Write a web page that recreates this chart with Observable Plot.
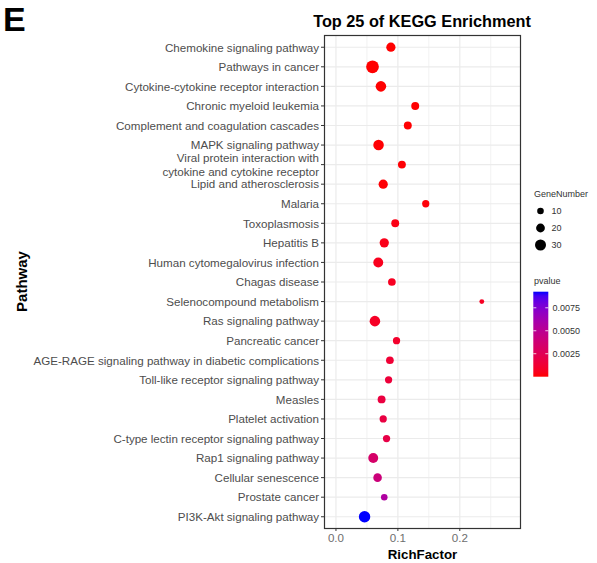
<!DOCTYPE html>
<html><head><meta charset="utf-8">
<script src="https://cdn.jsdelivr.net/npm/d3@7"></script>
<script src="https://cdn.jsdelivr.net/npm/@observablehq/plot@0.6"></script>
<style>
html,body{margin:0;padding:0;background:#fff;}
#wrap{position:relative;width:597px;height:563px;font-family:"Liberation Sans",Arial,sans-serif;}
#wrap svg{position:absolute;left:0;top:0;}
</style></head><body><div id="wrap"></div>
<script>
const pathways = [
  "Chemokine signaling pathway",
  "Pathways in cancer",
  "Cytokine-cytokine receptor interaction",
  "Chronic myeloid leukemia",
  "Complement and coagulation cascades",
  "MAPK signaling pathway",
  "Viral protein interaction with\ncytokine and cytokine receptor",
  "Lipid and atherosclerosis",
  "Malaria",
  "Toxoplasmosis",
  "Hepatitis B",
  "Human cytomegalovirus infection",
  "Chagas disease",
  "Selenocompound metabolism",
  "Ras signaling pathway",
  "Pancreatic cancer",
  "AGE-RAGE signaling pathway in diabetic complications",
  "Toll-like receptor signaling pathway",
  "Measles",
  "Platelet activation",
  "C-type lectin receptor signaling pathway",
  "Rap1 signaling pathway",
  "Cellular senescence",
  "Prostate cancer",
  "PI3K-Akt signaling pathway"
];
const richFactor = [0.0887, 0.059, 0.0726, 0.128, 0.116, 0.0688, 0.1065, 0.0763, 0.145,
  0.0957, 0.078, 0.0683, 0.0903, 0.2355, 0.0629, 0.0978, 0.0871, 0.085, 0.0737, 0.0763,
  0.0817, 0.0602, 0.0672, 0.078, 0.0462];
const geneNumber = [22, 38, 28, 16, 16, 28, 16, 22, 13, 16, 22, 25, 15, 2, 28, 13, 15, 13,
  16, 13, 13, 25, 19, 10, 32];
const pvalue = [0.000001, 0.000005, 0.000008, 0.00002, 0.00003, 0.00004, 0.00006, 0.00008,
  0.00012, 0.00035, 0.00045, 0.00055, 0.00065, 0.0007, 0.0008, 0.001, 0.0013, 0.0015,
  0.0017, 0.0018, 0.002, 0.0033, 0.004, 0.0056, 0.00925];
const xTicks = [0, 0.1, 0.2];
const xMinorTicks = [0.05, 0.15, 0.25];
const sizeBreaks = [10, 20, 30];
const pBreaks = [0.0025, 0.005, 0.0075];

const data = pathways.map((p, i) => ({pathway: p, rich: richFactor[i], genes: geneNumber[i], p: pvalue[i]}));
const FONT = "Liberation Sans, Arial, sans-serif";

const plot = Plot.plot({
  width: 597, height: 563,
  marginLeft: 324, marginRight: 77, marginTop: 35, marginBottom: 35,
  style: {fontFamily: FONT, background: "transparent", overflow: "visible"},
  x: {domain: [-0.0185, 0.298]},
  y: {type: "point", domain: pathways, padding: 0.6, round: false},
  r: {type: "linear", domain: [0, 30], range: [2.2, 5.5]},
  color: {type: "linear", domain: d3.extent(pvalue), range: ["#FF0000", "#0000FF"], interpolate: "lab"},
  marks: [
    Plot.gridX(xMinorTicks, {stroke: "#EBEBEB", strokeOpacity: 1, strokeWidth: 0.7}),
    Plot.gridX(xTicks, {stroke: "#EBEBEB", strokeOpacity: 1, strokeWidth: 1.2}),
    Plot.gridY(pathways, {stroke: "#EBEBEB", strokeOpacity: 1, strokeWidth: 1.2}),
    Plot.dot(data, {x: "rich", y: "pathway", r: "genes", fill: "p"}),
    Plot.frame({stroke: "#333333", strokeWidth: 1.2}),
    Plot.axisY({tickSize: 3, tickPadding: 2.5, fontSize: 11.6, fill: "#4D4D4D", stroke: "#333333",
      label: null, lineHeight: 1.15}),
    Plot.axisX(xTicks, {tickSize: 3, tickPadding: 2, fontSize: 11.6, fill: "#6E6E6E", stroke: "#333333",
      label: null, tickFormat: d3.format(".1f")})
  ]
});
const wrap = document.getElementById("wrap");
wrap.appendChild(plot);

const cScale = Plot.scale({color: plot.scale("color")});
const rScale = Plot.scale({r: plot.scale("r")});
const [pMin, pMax] = plot.scale("color").domain;

const svg = d3.select(wrap).append("svg")
  .attr("width", 597).attr("height", 563)
  .style("font-family", FONT).style("pointer-events", "none");

// Panel letter and title
svg.append("text").attr("x", 3).attr("y", 31).attr("font-size", 34).attr("font-weight", "bold")
  .attr("fill", "#000").text("E");
svg.append("text").attr("x", 422).attr("y", 26.5).attr("text-anchor", "middle")
  .attr("font-size", 16.3).attr("font-weight", "bold").attr("fill", "#000")
  .text("Top 25 of KEGG Enrichment");
// Axis titles
svg.append("text").attr("x", 422.5).attr("y", 558.5).attr("text-anchor", "middle")
  .attr("font-size", 13.3).attr("font-weight", "bold").attr("fill", "#000").text("RichFactor");
svg.append("text").attr("transform", "translate(21.7,281.5) rotate(-90)")
  .attr("text-anchor", "middle").attr("dominant-baseline", "central")
  .attr("font-size", 15).attr("font-weight", "bold").attr("fill", "#000").text("Pathway");

// Size legend
svg.append("text").attr("x", 534).attr("y", 196.5).attr("font-size", 9).attr("fill", "#333")
  .text("GeneNumber");
const sizeY = [211, 228, 245];
sizeBreaks.forEach((v, i) => {
  svg.append("circle").attr("cx", 540.5).attr("cy", sizeY[i]).attr("r", rScale.apply(v)).attr("fill", "#000");
  svg.append("text").attr("x", 551.5).attr("y", sizeY[i]).attr("dominant-baseline", "central")
    .attr("font-size", 9).attr("fill", "#333").text(String(v));
});

// Colour bar legend
svg.append("text").attr("x", 534).attr("y", 283.5).attr("font-size", 9).attr("fill", "#333").text("pvalue");
const barX = 533.3, barTop = 291.7, barW = 15, barH = 85;
const grad = svg.append("defs").append("linearGradient").attr("id", "pgrad")
  .attr("x1", 0).attr("y1", 1).attr("x2", 0).attr("y2", 0);
d3.range(0, 21).forEach(k => {
  const t = k / 20;
  grad.append("stop").attr("offset", t).attr("stop-color", cScale.apply(pMin + t * (pMax - pMin)));
});
svg.append("rect").attr("x", barX).attr("y", barTop).attr("width", barW).attr("height", barH)
  .attr("fill", "url(#pgrad)");
pBreaks.forEach(v => {
  const y = barTop + barH - (v - pMin) / (pMax - pMin) * barH;
  svg.append("line").attr("x1", barX).attr("x2", barX + 3).attr("y1", y).attr("y2", y)
    .attr("stroke", "#fff").attr("stroke-width", 0.8);
  svg.append("line").attr("x1", barX + barW - 3).attr("x2", barX + barW).attr("y1", y).attr("y2", y)
    .attr("stroke", "#fff").attr("stroke-width", 0.8);
  svg.append("text").attr("x", 552.5).attr("y", y).attr("dominant-baseline", "central")
    .attr("font-size", 9).attr("fill", "#333").text(d3.format(".4f")(v));
});
</script></body></html>
